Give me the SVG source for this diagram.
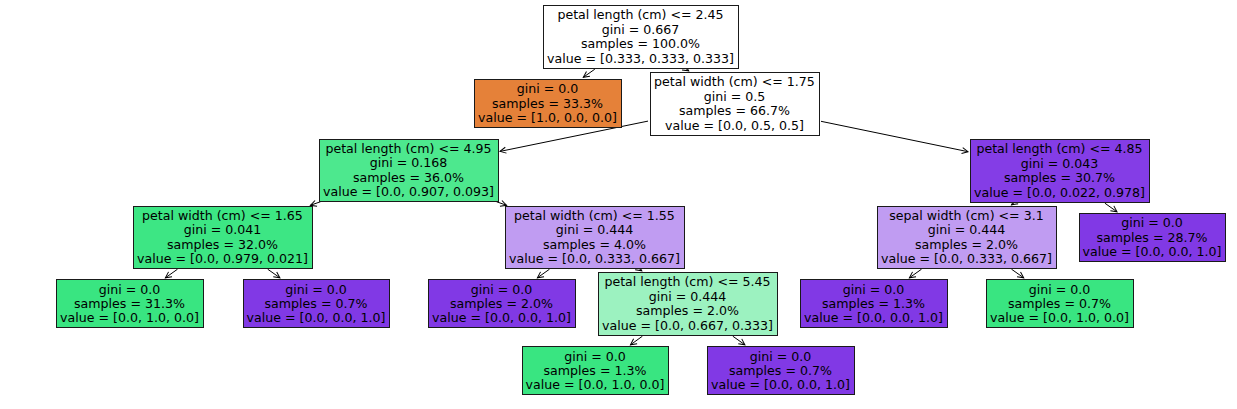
<svg xmlns="http://www.w3.org/2000/svg" width="1237" height="409" viewBox="0 0 1237 409">
<style>
.box{stroke:#1a1a1a;stroke-width:1}
.t{font-family:"DejaVu Sans",sans-serif;font-size:12.6px;fill:#000;text-anchor:middle}
.e{stroke:#000;stroke-width:1;fill:none;marker-end:url(#ah)}
</style>
<defs>
<marker id="ah" markerUnits="userSpaceOnUse" orient="auto" markerWidth="10" markerHeight="10" refX="7" refY="4" viewBox="0 0 10 8" overflow="visible">
<path d="M1,1 L7,4 L1,7" fill="none" stroke="#000" stroke-width="1"/>
</marker>
</defs>
<rect width="1237" height="409" fill="#fff"/>
<g id="edges">
<line class="e" x1="594.8" y1="69.2" x2="583.3" y2="77.3"/>
<line class="e" x1="686.3" y1="69.2" x2="688.7" y2="70.8"/>
<line class="e" x1="648.0" y1="121.1" x2="500.0" y2="151.4"/>
<line class="e" x1="821.0" y1="121.3" x2="968.0" y2="151.7"/>
<line class="e" x1="320.6" y1="201.7" x2="310.4" y2="205.3"/>
<line class="e" x1="496.4" y1="201.7" x2="506.6" y2="205.3"/>
<line class="e" x1="177.5" y1="269.2" x2="165.4" y2="277.8"/>
<line class="e" x1="267.7" y1="269.2" x2="279.9" y2="277.8"/>
<line class="e" x1="549.5" y1="269.2" x2="537.4" y2="277.8"/>
<line class="e" x1="639.5" y1="269.2" x2="641.8" y2="270.8"/>
<line class="e" x1="642.4" y1="336.2" x2="630.5" y2="344.8"/>
<line class="e" x1="732.8" y1="336.2" x2="744.9" y2="344.8"/>
<line class="e" x1="1013.8" y1="203.2" x2="1011.5" y2="204.8"/>
<line class="e" x1="1104.9" y1="203.2" x2="1117.0" y2="211.8"/>
<line class="e" x1="921.5" y1="269.2" x2="909.4" y2="277.8"/>
<line class="e" x1="1011.5" y1="269.2" x2="1023.7" y2="277.8"/>
</g>
<g id="n0"><rect class="box" x="543.5" y="5.5" width="195" height="63" fill="#ffffff"/>
<text class="t"><tspan x="640.5" y="19.4">petal length (cm) &lt;= 2.45</tspan><tspan x="640.5" y="33.8">gini = 0.667</tspan><tspan x="640.5" y="48.2">samples = 100.0%</tspan><tspan x="640.5" y="62.6">value = [0.333, 0.333, 0.333]</tspan></text></g>
<g id="n1"><rect class="box" x="474.5" y="79.5" width="147" height="48" fill="#e58139"/>
<text class="t"><tspan x="547.5" y="93.1">gini = 0.0</tspan><tspan x="547.5" y="107.5">samples = 33.3%</tspan><tspan x="547.5" y="121.9">value = [1.0, 0.0, 0.0]</tspan></text></g>
<g id="n2"><rect class="box" x="650.5" y="72.5" width="169" height="63" fill="#ffffff"/>
<text class="t"><tspan x="734.5" y="86.4">petal width (cm) &lt;= 1.75</tspan><tspan x="734.5" y="100.8">gini = 0.5</tspan><tspan x="734.5" y="115.2">samples = 66.7%</tspan><tspan x="734.5" y="129.6">value = [0.0, 0.5, 0.5]</tspan></text></g>
<g id="n3"><rect class="box" x="319.5" y="139.5" width="179" height="62" fill="#4de88e"/>
<text class="t"><tspan x="408.5" y="152.9">petal length (cm) &lt;= 4.95</tspan><tspan x="408.5" y="167.3">gini = 0.168</tspan><tspan x="408.5" y="181.7">samples = 36.0%</tspan><tspan x="408.5" y="196.1">value = [0.0, 0.907, 0.093]</tspan></text></g>
<g id="n4"><rect class="box" x="133.5" y="206.5" width="179" height="62" fill="#3de684"/>
<text class="t"><tspan x="222.5" y="219.9">petal width (cm) &lt;= 1.65</tspan><tspan x="222.5" y="234.3">gini = 0.041</tspan><tspan x="222.5" y="248.7">samples = 32.0%</tspan><tspan x="222.5" y="263.1">value = [0.0, 0.979, 0.021]</tspan></text></g>
<g id="n5"><rect class="box" x="56.5" y="279.5" width="147" height="48" fill="#39e581"/>
<text class="t"><tspan x="129.5" y="293.6">gini = 0.0</tspan><tspan x="129.5" y="308">samples = 31.3%</tspan><tspan x="129.5" y="322.4">value = [0.0, 1.0, 0.0]</tspan></text></g>
<g id="n6"><rect class="box" x="243.5" y="279.5" width="146" height="48" fill="#8139e5"/>
<text class="t"><tspan x="316" y="293.6">gini = 0.0</tspan><tspan x="316" y="308">samples = 0.7%</tspan><tspan x="316" y="322.4">value = [0.0, 0.0, 1.0]</tspan></text></g>
<g id="n7"><rect class="box" x="505.5" y="206.5" width="179" height="62" fill="#c09cf2"/>
<text class="t"><tspan x="594.5" y="219.9">petal width (cm) &lt;= 1.55</tspan><tspan x="594.5" y="234.3">gini = 0.444</tspan><tspan x="594.5" y="248.7">samples = 4.0%</tspan><tspan x="594.5" y="263.1">value = [0.0, 0.333, 0.667]</tspan></text></g>
<g id="n8"><rect class="box" x="428.5" y="279.5" width="147" height="48" fill="#8139e5"/>
<text class="t"><tspan x="501.5" y="293.6">gini = 0.0</tspan><tspan x="501.5" y="308">samples = 2.0%</tspan><tspan x="501.5" y="322.4">value = [0.0, 0.0, 1.0]</tspan></text></g>
<g id="n9"><rect class="box" x="598.5" y="272.5" width="179" height="63" fill="#9cf2c0"/>
<text class="t"><tspan x="687.5" y="286.4">petal length (cm) &lt;= 5.45</tspan><tspan x="687.5" y="300.8">gini = 0.444</tspan><tspan x="687.5" y="315.2">samples = 2.0%</tspan><tspan x="687.5" y="329.6">value = [0.0, 0.667, 0.333]</tspan></text></g>
<g id="n10"><rect class="box" x="522.5" y="346.5" width="146" height="48" fill="#39e581"/>
<text class="t"><tspan x="595" y="360.6">gini = 0.0</tspan><tspan x="595" y="375">samples = 1.3%</tspan><tspan x="595" y="389.4">value = [0.0, 1.0, 0.0]</tspan></text></g>
<g id="n11"><rect class="box" x="707.5" y="346.5" width="147" height="48" fill="#8139e5"/>
<text class="t"><tspan x="780.5" y="360.6">gini = 0.0</tspan><tspan x="780.5" y="375">samples = 0.7%</tspan><tspan x="780.5" y="389.4">value = [0.0, 0.0, 1.0]</tspan></text></g>
<g id="n12"><rect class="box" x="970.5" y="139.5" width="179" height="63" fill="#843de6"/>
<text class="t"><tspan x="1059.5" y="153.4">petal length (cm) &lt;= 4.85</tspan><tspan x="1059.5" y="167.8">gini = 0.043</tspan><tspan x="1059.5" y="182.2">samples = 30.7%</tspan><tspan x="1059.5" y="196.6">value = [0.0, 0.022, 0.978]</tspan></text></g>
<g id="n13"><rect class="box" x="877.5" y="206.5" width="179" height="62" fill="#c09cf2"/>
<text class="t"><tspan x="966.5" y="219.9">sepal width (cm) &lt;= 3.1</tspan><tspan x="966.5" y="234.3">gini = 0.444</tspan><tspan x="966.5" y="248.7">samples = 2.0%</tspan><tspan x="966.5" y="263.1">value = [0.0, 0.333, 0.667]</tspan></text></g>
<g id="n14"><rect class="box" x="800.5" y="279.5" width="147" height="48" fill="#8139e5"/>
<text class="t"><tspan x="873.5" y="293.6">gini = 0.0</tspan><tspan x="873.5" y="308">samples = 1.3%</tspan><tspan x="873.5" y="322.4">value = [0.0, 0.0, 1.0]</tspan></text></g>
<g id="n15"><rect class="box" x="986.5" y="279.5" width="147" height="48" fill="#39e581"/>
<text class="t"><tspan x="1059.5" y="293.6">gini = 0.0</tspan><tspan x="1059.5" y="308">samples = 0.7%</tspan><tspan x="1059.5" y="322.4">value = [0.0, 1.0, 0.0]</tspan></text></g>
<g id="n16"><rect class="box" x="1079.5" y="213.5" width="146" height="48" fill="#8139e5"/>
<text class="t"><tspan x="1152" y="227.1">gini = 0.0</tspan><tspan x="1152" y="241.5">samples = 28.7%</tspan><tspan x="1152" y="255.9">value = [0.0, 0.0, 1.0]</tspan></text></g>
</svg>
